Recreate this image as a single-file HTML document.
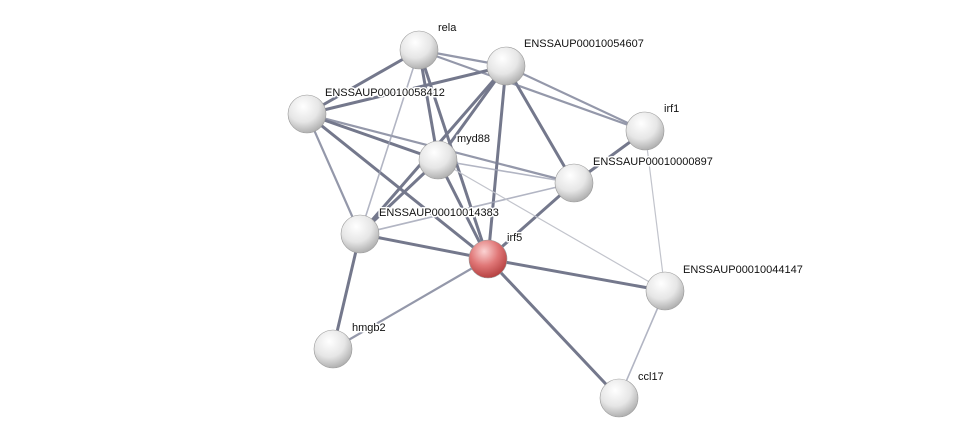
<!DOCTYPE html>
<html><head><meta charset="utf-8"><style>
html,body{margin:0;padding:0;background:#fff;}
svg text{font-family:"Liberation Sans",sans-serif;font-size:11px;fill:#111;stroke:#fff;stroke-width:3px;paint-order:stroke;stroke-linejoin:round;}
</style></head><body>
<svg width="976" height="443" viewBox="0 0 976 443" xmlns="http://www.w3.org/2000/svg">
<defs>
<radialGradient id="g" cx="0.4" cy="0.3" r="0.75">
<stop offset="0" stop-color="#ffffff"/><stop offset="0.55" stop-color="#e6e6e6"/><stop offset="1" stop-color="#a8a8a8"/>
</radialGradient>
<radialGradient id="r" cx="0.4" cy="0.3" r="0.75">
<stop offset="0" stop-color="#fbd3d3"/><stop offset="0.5" stop-color="#e07777"/><stop offset="1" stop-color="#b03a3a"/>
</radialGradient>
</defs>
<g stroke-linecap="round">
<g stroke="#5c6178" stroke-width="3" opacity="0.85">
<line x1="419" y1="50" x2="307" y2="114"/>
<line x1="419" y1="50" x2="438" y2="160"/>
<line x1="419" y1="50" x2="488" y2="259"/>
<line x1="506" y1="66" x2="307" y2="114"/>
<line x1="506" y1="66" x2="438" y2="160"/>
<line x1="506" y1="66" x2="574" y2="183"/>
<line x1="506" y1="66" x2="488" y2="259"/>
<line x1="506" y1="66" x2="360" y2="234"/>
<line x1="307" y1="114" x2="438" y2="160"/>
<line x1="307" y1="114" x2="488" y2="259"/>
<line x1="438" y1="160" x2="488" y2="259"/>
<line x1="574" y1="183" x2="645" y2="131"/>
<line x1="574" y1="183" x2="488" y2="259"/>
<line x1="360" y1="234" x2="333" y2="349"/>
<line x1="360" y1="234" x2="488" y2="259"/>
<line x1="488" y1="259" x2="665" y2="291"/>
<line x1="488" y1="259" x2="619" y2="398"/>
<line x1="438" y1="160" x2="360" y2="234"/>
</g>
<g stroke="#7a7f95" stroke-width="2.2" opacity="0.8">
<line x1="419" y1="50" x2="506" y2="66"/>
<line x1="419" y1="50" x2="645" y2="131"/>
<line x1="506" y1="66" x2="645" y2="131"/>
<line x1="307" y1="114" x2="360" y2="234"/>
<line x1="488" y1="259" x2="333" y2="349"/>
<line x1="307" y1="114" x2="574" y2="183"/>
</g>
<g stroke="#9fa3b5" stroke-width="1.6" opacity="0.8">
<line x1="419" y1="50" x2="360" y2="234"/>
<line x1="438" y1="160" x2="574" y2="183"/>
<line x1="360" y1="234" x2="574" y2="183"/>
<line x1="665" y1="291" x2="619" y2="398"/>
</g>
<g stroke="#c2c4cc" stroke-width="1.2">
<line x1="438" y1="160" x2="665" y2="291"/>
<line x1="645" y1="131" x2="665" y2="291"/>
</g>
</g>
<g stroke="#999" stroke-width="0.6">
<circle cx="419" cy="50" r="19" fill="url(#g)"/>
<circle cx="506" cy="66" r="19" fill="url(#g)"/>
<circle cx="307" cy="114" r="19" fill="url(#g)"/>
<circle cx="645" cy="131" r="19" fill="url(#g)"/>
<circle cx="438" cy="160" r="19" fill="url(#g)"/>
<circle cx="574" cy="183" r="19" fill="url(#g)"/>
<circle cx="360" cy="234" r="19" fill="url(#g)"/>
<circle cx="488" cy="259" r="19" fill="url(#r)"/>
<circle cx="665" cy="291" r="19" fill="url(#g)"/>
<circle cx="333" cy="349" r="19" fill="url(#g)"/>
<circle cx="619" cy="398" r="19" fill="url(#g)"/>
</g>
<text x="438" y="31">rela</text>
<text x="524" y="47">ENSSAUP00010054607</text>
<text x="325" y="96">ENSSAUP00010058412</text>
<text x="664" y="112">irf1</text>
<text x="457" y="142">myd88</text>
<text x="593" y="165">ENSSAUP00010000897</text>
<text x="379" y="216">ENSSAUP00010014383</text>
<text x="507" y="241">irf5</text>
<text x="683" y="273">ENSSAUP00010044147</text>
<text x="352" y="331">hmgb2</text>
<text x="638" y="380">ccl17</text>
</svg>
</body></html>
